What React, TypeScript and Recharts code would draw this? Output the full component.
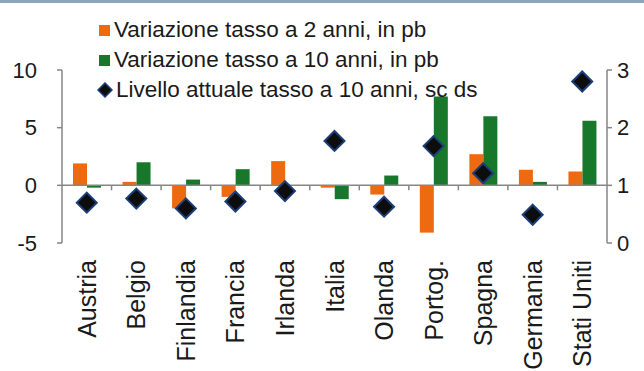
import React from 'react';
import {
  ComposedChart,
  Bar,
  Scatter,
  XAxis,
  YAxis,
  ReferenceLine,
  Legend,
} from 'recharts';

const categories = ['Austria', 'Belgio', 'Finlandia', 'Francia', 'Irlanda', 'Italia', 'Olanda', 'Portog.', 'Spagna', 'Germania', 'Stati Uniti'];
const var2y = [1.9, 0.3, -2.0, -1.0, 2.1, -0.2, -0.8, -4.1, 2.7, 1.35, 1.2];
const var10y = [-0.2, 2.0, 0.5, 1.4, 0, -1.2, 0.85, 7.7, 6.0, 0.3, 5.6];
const livello = [0.7, 0.77, 0.6, 0.72, 0.9, 1.77, 0.63, 1.68, 1.21, 0.49, 2.8];
const leftTicks = [-5, 0, 5, 10];
const rightTicks = [0, 1, 2, 3];

const ORANGE = '#EE6A10';
const GREEN = '#17782C';
const AXIS = '#868686';
const FONT = '"Liberation Sans", Arial, sans-serif';

const data = categories.map((name, i) => ({
  name,
  v2: var2y[i],
  v10: var10y[i],
  liv: livello[i],
}));

// plot geometry
const W = 644;
const H = 371;
const TOP = 70;
const BOTTOM = 243;
const LEFT = 62;
const RIGHT = 607;
const zeroY = TOP + ((10 - 0) / 15) * (BOTTOM - TOP);
const band = (RIGHT - LEFT) / categories.length;

const Diamond = (props: any) => {
  const { cx, cy } = props;
  if (cx == null || cy == null) return null;
  const r = 10;
  return (
    <polygon
      points={`${cx},${cy - r} ${cx + r},${cy} ${cx},${cy + r} ${cx - r},${cy}`}
      fill="#0d0d0d"
      stroke="#1c3f7a"
      strokeWidth={2}
    />
  );
};

const CategoryTick = (props: any) => {
  const { x, payload, index } = props;
  return (
    <g>
      {index > 0 && (
        <line x1={x - band / 2} x2={x - band / 2} y1={zeroY} y2={zeroY + 5} stroke={AXIS} strokeWidth={1.5} />
      )}
      <text
        transform={`translate(${x},${BOTTOM + 17}) rotate(-90)`}
        textAnchor="end"
        dy="0.36em"
        fontSize={25}
        fontFamily={FONT}
        fill="#1a1a1a"
      >
        {payload.value}
      </text>
    </g>
  );
};

const LegendContent = () => {
  const row: React.CSSProperties = { display: 'flex', alignItems: 'center', height: 30, whiteSpace: 'nowrap' };
  return (
    <div style={{ fontFamily: FONT, fontSize: 22.5, color: '#1a1a1a' }}>
      <div style={row}>
        <span style={{ width: 11, height: 11, background: ORANGE, marginRight: 4, marginLeft: 2 }} />
        Variazione tasso a 2 anni, in pb
      </div>
      <div style={row}>
        <span style={{ width: 11, height: 11, background: GREEN, marginRight: 4, marginLeft: 2 }} />
        Variazione tasso a 10 anni, in pb
      </div>
      <div style={row}>
        <svg width={17} height={16} style={{ marginRight: 2 }}>
          <polygon points="8,1 15,8 8,15 1,8" fill="#0d0d0d" stroke="#1c3f7a" strokeWidth={1.5} />
        </svg>
        Livello attuale tasso a 10 anni, sc ds
      </div>
    </div>
  );
};

export default function App() {
  return (
    <div style={{ position: 'absolute', left: 0, top: 0, width: W, height: H, background: '#fff', overflow: 'hidden' }}>
      <div style={{ position: 'absolute', left: 0, top: 0, width: W, height: 3, background: '#8ca5bd' }} />
      <ComposedChart
        width={W}
        height={H}
        data={data}
        margin={{ top: TOP, right: 0, bottom: 0, left: 0 }}
        barGap={0}
        barSize={14}
      >
        <XAxis
          dataKey="name"
          height={H - BOTTOM}
          axisLine={false}
          tickLine={false}
          interval={0}
          tick={<CategoryTick />}
        />
        <YAxis
          yAxisId="left"
          orientation="left"
          width={LEFT}
          domain={[-5, 10]}
          ticks={leftTicks}
          axisLine={{ stroke: AXIS, strokeWidth: 1.5 }}
          tickLine={{ stroke: AXIS, strokeWidth: 1.5 }}
          tickSize={5}
          tickMargin={20}
          tick={{ fontSize: 22, fontFamily: FONT, fill: '#1a1a1a' }}
        />
        <YAxis
          yAxisId="right"
          orientation="right"
          width={W - RIGHT}
          domain={[0, 3]}
          ticks={rightTicks}
          axisLine={{ stroke: AXIS, strokeWidth: 1.5 }}
          tickLine={{ stroke: AXIS, strokeWidth: 1.5 }}
          tickSize={5}
          tickMargin={5}
          tick={{ fontSize: 22, fontFamily: FONT, fill: '#1a1a1a' }}
        />
        <Legend
          layout="vertical"
          align="center"
          verticalAlign="middle"
          wrapperStyle={{ top: 15, left: 97, width: 'auto' }}
          content={<LegendContent />}
        />
        <Bar yAxisId="left" dataKey="v2" fill={ORANGE} isAnimationActive={false} />
        <Bar yAxisId="left" dataKey="v10" fill={GREEN} isAnimationActive={false} />
        <ReferenceLine yAxisId="left" y={0} stroke={AXIS} strokeWidth={1.5} />
        <Scatter yAxisId="right" dataKey="liv" shape={<Diamond />} isAnimationActive={false} />
      </ComposedChart>
    </div>
  );
}
